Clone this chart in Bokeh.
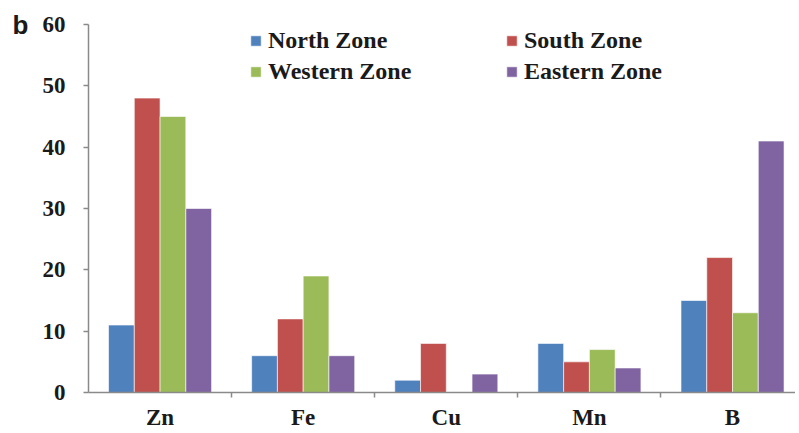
from bokeh.plotting import figure
from bokeh.models import ColumnDataSource, FixedTicker, Legend, LegendItem, LinearAxis, Range1d
from bokeh.embed import file_html
from bokeh.resources import INLINE

categories = ["Zn", "Fe", "Cu", "Mn", "B"]
zones = ["North Zone", "South Zone", "Western Zone", "Eastern Zone"]
north = [11, 6, 2, 8, 15]
south = [48, 12, 8, 5, 22]
western = [45, 19, 0, 7, 13]
eastern = [30, 6, 3, 4, 41]
colors = ["#4F81BD", "#C0504D", "#9BBB59", "#8064A2"]
y_ticks = [0, 10, 20, 30, 40, 50, 60]
panel_letter = "b"

series = [north, south, western, eastern]
bar_w = 0.18
centers = [i + 0.5 for i in range(len(categories))]

p = figure(width=795, height=432, output_backend="svg", toolbar_location=None,
           x_range=Range1d(0, 4.94), y_range=Range1d(0, 60),
           min_border_left=88, min_border_right=0, min_border_top=24, min_border_bottom=40)
p.outline_line_color = None
p.xgrid.grid_line_color = None
p.ygrid.grid_line_color = None
p.background_fill_color = "white"

renderers = []
for k, (vals, col) in enumerate(zip(series, colors)):
    xs = [c + (k - 1.5) * bar_w for c in centers]
    src = ColumnDataSource(dict(x=xs, top=vals))
    r = p.vbar(x="x", top="top", width=bar_w, bottom=0, source=src,
               fill_color=col, line_color="white", line_width=0.6)
    renderers.append(r)

axis_col = "#8a8a8a"
font = "Liberation Serif"

p.xaxis.ticker = FixedTicker(ticks=centers, minor_ticks=[1, 2, 3, 4])
p.xaxis.major_label_overrides = {c: lab for c, lab in zip(centers, categories)}
p.xaxis.major_tick_line_color = None
p.xaxis.minor_tick_out = 5
p.xaxis.minor_tick_in = 0
p.xaxis.minor_tick_line_color = axis_col
p.xaxis.minor_tick_line_width = 1.5
p.xaxis.axis_line_color = axis_col
p.xaxis.axis_line_width = 1.5
p.xaxis.major_label_text_font = font
p.xaxis.major_label_text_font_style = "bold"
p.xaxis.major_label_text_font_size = "23px"
p.xaxis.major_label_text_color = "#1a1a1a"
p.xaxis.major_label_standoff = 6

p.yaxis.ticker = FixedTicker(ticks=y_ticks)
p.yaxis.minor_tick_line_color = None
p.yaxis.major_tick_out = 5
p.yaxis.major_tick_in = 0
p.yaxis.major_tick_line_color = axis_col
p.yaxis.major_tick_line_width = 1.5
p.yaxis.axis_line_color = axis_col
p.yaxis.axis_line_width = 1.5
p.yaxis.major_label_text_font = font
p.yaxis.major_label_text_font_style = "bold"
p.yaxis.major_label_text_font_size = "23px"
p.yaxis.major_label_text_color = "#1a1a1a"
p.yaxis.major_label_standoff = 18

# outer invisible axis carrying the panel letter at the top
letter_axis = LinearAxis(ticker=FixedTicker(ticks=[y_ticks[-1]]),
                         major_label_overrides={y_ticks[-1]: panel_letter},
                         axis_line_color=None, major_tick_line_color=None,
                         minor_tick_line_color=None, major_label_standoff=5,
                         major_label_text_font="Liberation Sans",
                         major_label_text_font_style="bold",
                         major_label_text_font_size="26px",
                         major_label_text_color="#1a1a1a")
p.add_layout(letter_axis, "left")

order = [0, 2, 1, 3]
legend = Legend(items=[LegendItem(label=zones[i], renderers=[renderers[i]]) for i in order],
                ncols=2, location=(161, 307),
                label_text_font=font, label_text_font_style="bold",
                label_text_font_size="24px", label_text_color="#1a1a1a",
                glyph_width=13, glyph_height=13, label_standoff=6,
                label_width=233, spacing=4, padding=0, margin=0,
                border_line_color=None, background_fill_alpha=0)
p.add_layout(legend)

open("out.html", "w").write(file_html(p, INLINE))
